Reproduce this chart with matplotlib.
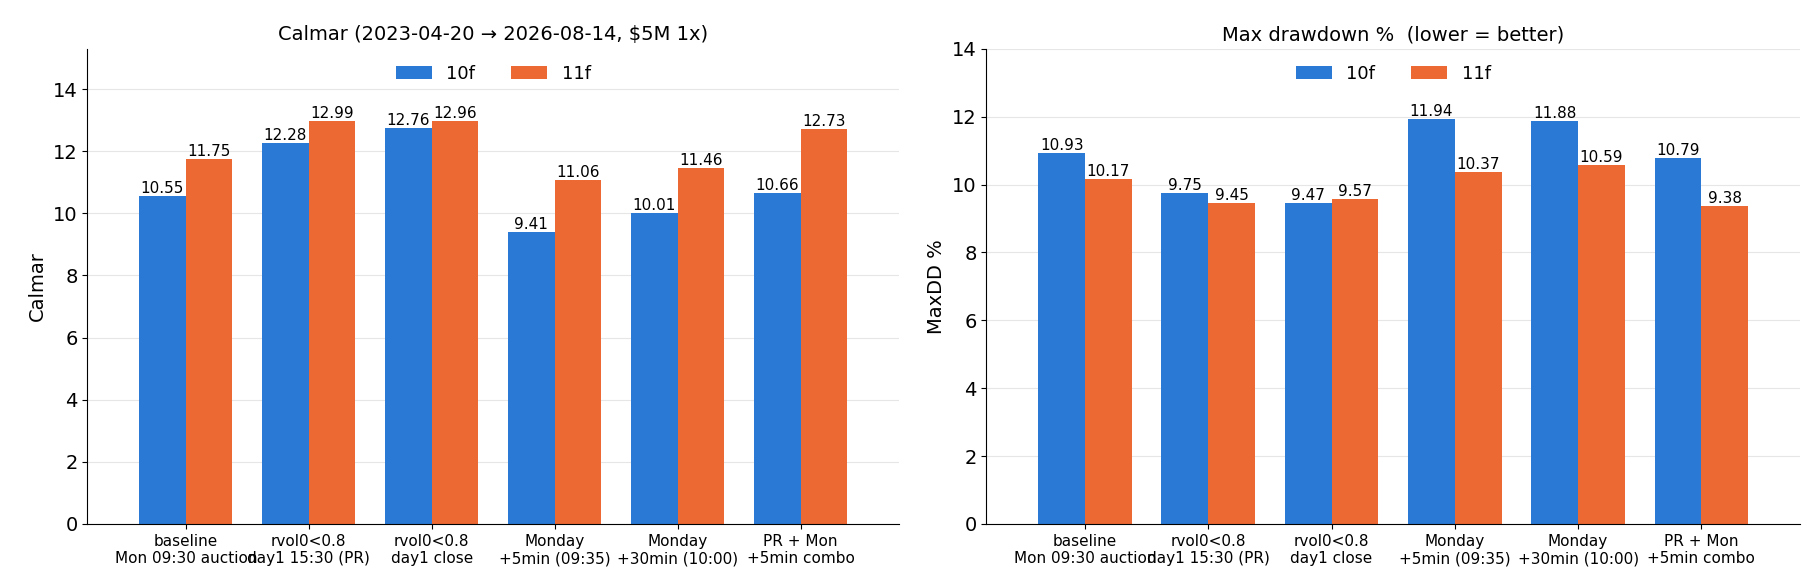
import numpy as np
import matplotlib.pyplot as plt

labels = ['baseline\nMon 09:30 auction', 'rvol0<0.8\nday1 15:30 (PR)', 'rvol0<0.8\nday1 close',
          'Monday\n+5min (09:35)', 'Monday\n+30min (10:00)', 'PR + Mon\n+5min combo']
calmar_10f = [10.55, 12.28, 12.76, 9.41, 10.01, 10.66]
calmar_11f = [11.75, 12.99, 12.96, 11.06, 11.46, 12.73]
maxdd_10f = [10.93, 9.75, 9.47, 11.94, 11.88, 10.79]
maxdd_11f = [10.17, 9.45, 9.57, 10.37, 10.59, 9.38]

blue = '#2a7ad5'
orange = '#ec6934'

fig, axes = plt.subplots(1, 2, figsize=(18.2, 5.88), dpi=100)
x = np.arange(len(labels))
w = 0.38

def draw(ax, a, b, title, ylabel, ylim):
    b1 = ax.bar(x - w/2, a, w, color=blue, label='10f', zorder=2)
    b2 = ax.bar(x + w/2, b, w, color=orange, label='11f', zorder=2)
    for bars, vals in ((b1, a), (b2, b)):
        for r, v in zip(bars, vals):
            ax.text(r.get_x() + r.get_width()/2, v, f'{v:.2f}', ha='center', va='bottom', fontsize=11)
    ax.set_xticks(x)
    ax.set_xticklabels(labels, fontsize=11)
    ax.set_title(title, fontsize=14)
    ax.set_ylabel(ylabel, fontsize=14)
    ax.set_ylim(*ylim)
    ax.set_xlim(-0.8, 5.8)
    ax.tick_params(axis='y', labelsize=14)
    ax.grid(axis='y', color='#e6e6e6', zorder=0)
    ax.spines['top'].set_visible(False)
    ax.spines['right'].set_visible(False)
    ax.legend(loc='upper center', ncol=2, frameon=False, fontsize=13)

draw(axes[0], calmar_10f, calmar_11f, 'Calmar (2023-04-20 → 2026-08-14, $5M 1x)', 'Calmar', (0, 15.3))
draw(axes[1], maxdd_10f, maxdd_11f, 'Max drawdown %  (lower = better)', 'MaxDD %', (0, 14))

axes[0].set_position([0.048, 0.109, 0.446, 0.808])
axes[1].set_position([0.542, 0.109, 0.447, 0.808])
fig.savefig('out.png')
